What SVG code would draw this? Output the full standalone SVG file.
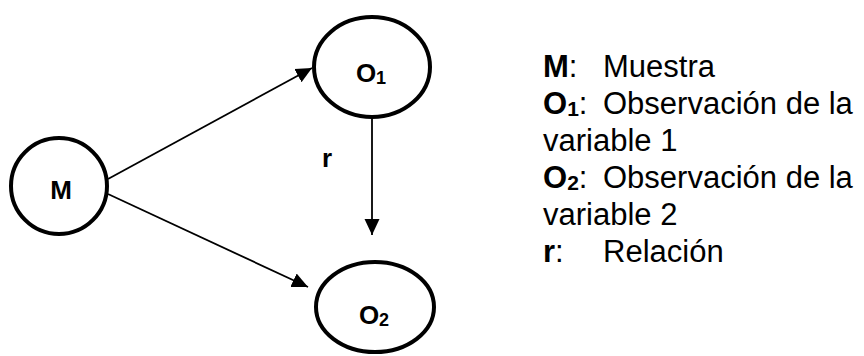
<svg xmlns="http://www.w3.org/2000/svg" width="864" height="356" viewBox="0 0 864 356">
  <defs>
    <marker id="arrow" viewBox="0 0 16 16" refX="16" refY="8" markerWidth="16" markerHeight="16" markerUnits="userSpaceOnUse" orient="auto">
      <path d="M0,0.5 L16,8 L0,15.5 z" fill="#000"/>
    </marker>
    <style>
      .node { fill: #fff; stroke: #000; stroke-width: 4; }
      .edge { stroke: #000; stroke-width: 1.8; fill: none; }
      .lbl { font-family: "Liberation Sans", Arial, sans-serif; font-weight: bold; font-size: 26px; fill: #000; }
      .legend { font-family: "Liberation Sans", Arial, sans-serif; font-size: 31px; fill: #000; }
      .b { font-weight: bold; }
    </style>
  </defs>
  <rect width="864" height="356" fill="#fff"/>

  <g id="edges">
    <line class="edge" x1="108" y1="179" x2="312" y2="68" marker-end="url(#arrow)"/>
    <line class="edge" x1="108" y1="194" x2="308" y2="287" marker-end="url(#arrow)"/>
    <line class="edge" x1="372" y1="118" x2="372" y2="235" marker-end="url(#arrow)"/>
    <text class="lbl" x="322" y="167" font-size="28">r</text>
  </g>

  <g id="node-M">
    <ellipse class="node" cx="59" cy="186" rx="48" ry="48"/>
    <text class="lbl" x="61" y="199" text-anchor="middle" font-size="28">M</text>
  </g>

  <g id="node-O1">
    <ellipse class="node" cx="372" cy="67" rx="58" ry="50"/>
    <text class="lbl" x="371" y="82" text-anchor="middle">O<tspan font-size="18" dy="2">1</tspan></text>
  </g>

  <g id="node-O2">
    <ellipse class="node" cx="375" cy="307" rx="59" ry="45"/>
    <text class="lbl" x="374" y="324" text-anchor="middle">O<tspan font-size="18" dy="2">2</tspan></text>
  </g>

  <g id="legend" class="legend">
    <text x="543" y="77"><tspan class="b">M</tspan>:</text>
    <text x="603" y="77">Muestra</text>
    <text x="543" y="114"><tspan class="b">O</tspan><tspan class="b" font-size="21" dy="2">1</tspan><tspan dy="-2">:</tspan></text>
    <text x="603" y="114">Observación de la</text>
    <text x="543" y="151">variable 1</text>
    <text x="543" y="188"><tspan class="b">O</tspan><tspan class="b" font-size="21" dy="2">2</tspan><tspan dy="-2">:</tspan></text>
    <text x="603" y="188">Observación de la</text>
    <text x="543" y="225">variable 2</text>
    <text x="543" y="262"><tspan class="b">r</tspan>:</text>
    <text x="603" y="262">Relación</text>
  </g>
</svg>
